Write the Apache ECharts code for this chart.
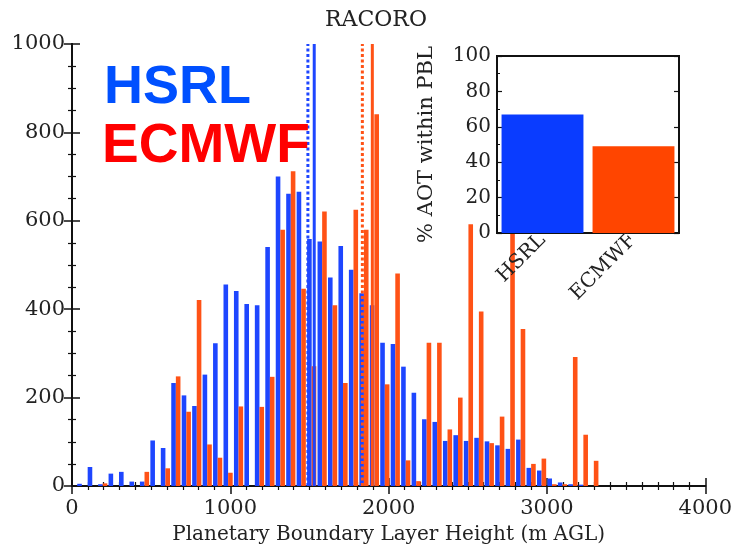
<!DOCTYPE html>
<html><head><meta charset="utf-8">
<script src="https://cdn.jsdelivr.net/npm/echarts@6/dist/echarts.min.js"></script>
<style>html,body{margin:0;padding:0;background:#fff}#c{width:735px;height:550px}</style>
</head><body><div id="c"></div>
<script>
// Histogram bin centres (m AGL)
const binCenters = [62,128,194,260,326,392,458,524,590,656,722,788,854,920,986,1052,1118,1184,1250,1316,1382,1448,1514,1580,1646,1712,1778,1844,1910,1976,2042,2108,2174,2240,2306,2372,2438,2504,2570,2636,2702,2768,2834,2900,2966,3032,3098,3164,3230,3296];
// Counts
const hsrlCounts  = [5,43,4,28,32,10,10,103,86,233,205,181,252,323,456,441,412,409,541,700,661,666,559,553,472,543,489,436,409,324,321,270,211,151,145,102,115,102,109,101,92,84,105,41,35,17,8,4,3,0];
const ecmwfCounts = [0,0,6,0,0,0,32,0,40,248,168,421,94,64,30,180,0,179,247,580,712,446,271,621,409,233,625,580,841,230,481,58,11,324,324,128,200,592,395,97,157,640,355,50,62,4,4,292,116,57];
// Vertical statistic lines: [dotted, solid]
const hsrlLines  = [1490, 1530];
const ecmwfLines = [1834, 1897];
// Inset
const insetCategories = ['HSRL', 'ECMWF'];
const insetValues = [67, 49];

const BLUE = '#1e46ff', ORANGE = '#ff5216';
const IBLUE = '#0a3cff', IORANGE = '#ff4500';
const SERIF = 'DejaVu Serif';
const AX = '#111';
const plain = v => String(v);

const pairs = (xs, ys) => xs.map((x, i) => [x, ys[i]]);
const vline = (x, color, dotted) => ({
  type: 'line', xAxisIndex: 0, yAxisIndex: 0, symbol: 'none', z: 5, silent: true,
  data: [[x, 0], [x, 1000]],
  lineStyle: { color: color, width: 3, type: dotted ? [3, 2.5] : 'solid' }
});

const chart = echarts.init(document.getElementById('c'), null, { renderer: 'canvas' });
chart.setOption({
  animation: false,
  backgroundColor: '#fff',
  title: [
    { text: 'RACORO', left: 320, top: 4, textStyle: { fontFamily: SERIF, fontSize: 22, fontWeight: 'normal', color: '#222' } },
    { text: 'HSRL', left: 99, top: 56, textStyle: { fontFamily: 'Liberation Sans', fontSize: 54, fontWeight: 'bold', color: '#0050ff' } },
    { text: 'ECMWF', left: 97, top: 114, textStyle: { fontFamily: 'Liberation Sans', fontSize: 55, fontWeight: 'bold', color: '#ff0000' } }
  ],
  grid: [
    { left: 72, right: 29, top: 44, bottom: 59, show: false },
    { left: 497, top: 56, width: 182, height: 177, show: true, backgroundColor: '#fff', borderColor: AX, borderWidth: 2, zlevel: 1 }
  ],
  xAxis: [
    { type: 'value', gridIndex: 0, min: 0, max: 4000, interval: 1000,
      axisLine: { lineStyle: { color: AX, width: 2 } },
      axisTick: { inside: true, length: 8, lineStyle: { color: AX, width: 1.5 } },
      minorTick: { show: true, splitNumber: 10, length: 4, lineStyle: { color: AX, width: 1.2 } },
      splitLine: { show: false },
      axisLabel: { fontFamily: SERIF, fontSize: 21, color: '#222', margin: 12, formatter: plain },
      name: 'Planetary Boundary Layer Height (m AGL)', nameLocation: 'middle', nameGap: 39,
      nameTextStyle: { fontFamily: SERIF, fontSize: 20, color: '#222' } },
    { type: 'value', gridIndex: 0, position: 'top', min: 0, max: 4000, interval: 1000,
      axisLine: { lineStyle: { color: AX, width: 2 } },
      axisTick: { inside: true, length: 8, lineStyle: { color: AX, width: 1.5 } },
      minorTick: { show: true, splitNumber: 10, length: 4, lineStyle: { color: AX, width: 1.2 } },
      splitLine: { show: false }, axisLabel: { show: false } },
    { type: 'category', gridIndex: 1, data: insetCategories, zlevel: 1,
      axisLine: { lineStyle: { color: AX, width: 2 } },
      axisTick: { show: false },
      axisLabel: { rotate: 45, fontFamily: SERIF, fontSize: 20, color: '#222', margin: 4 } }
  ],
  yAxis: [
    { type: 'value', gridIndex: 0, min: 0, max: 1000, interval: 200,
      axisLine: { show: true, lineStyle: { color: AX, width: 2 } },
      axisTick: { show: true, inside: true, length: 8, lineStyle: { color: AX, width: 1.5 } },
      minorTick: { show: true, splitNumber: 4, length: 4, lineStyle: { color: AX, width: 1.2 } },
      splitLine: { show: false },
      axisLabel: { fontFamily: SERIF, fontSize: 21, color: '#222', margin: 7, formatter: plain } },
    { type: 'value', gridIndex: 0, position: 'right', min: 0, max: 1000, interval: 200,
      axisLine: { show: true, lineStyle: { color: AX, width: 2 } },
      axisTick: { show: true, inside: true, length: 8, lineStyle: { color: AX, width: 1.5 } },
      minorTick: { show: true, splitNumber: 4, length: 4, lineStyle: { color: AX, width: 1.2 } },
      splitLine: { show: false }, axisLabel: { show: false } },
    { type: 'value', gridIndex: 1, min: 0, max: 100, interval: 20, zlevel: 1,
      axisLine: { show: true, lineStyle: { color: AX, width: 2 } },
      axisTick: { show: true, inside: true, length: 5, lineStyle: { color: AX, width: 1.2 } },
      minorTick: { show: true, splitNumber: 2, length: 3, lineStyle: { color: AX, width: 1 } },
      splitLine: { show: false },
      axisLabel: { fontFamily: SERIF, fontSize: 20, color: '#222', margin: 6 },
      name: '% AOT within PBL', nameLocation: 'middle', nameRotate: 90, nameGap: 60,
      nameTextStyle: { fontFamily: SERIF, fontSize: 21, color: '#222' } },
    { type: 'value', gridIndex: 1, position: 'right', min: 0, max: 100, interval: 20, zlevel: 1,
      axisLine: { show: true, lineStyle: { color: AX, width: 2 } },
      axisTick: { show: true, inside: true, length: 5, lineStyle: { color: AX, width: 1.2 } },
      splitLine: { show: false }, axisLabel: { show: false } }
  ],
  series: [
    { type: 'bar', name: 'HSRL', xAxisIndex: 0, yAxisIndex: 0, data: pairs(binCenters, hsrlCounts),
      barWidth: 4.6, barGap: '0%', itemStyle: { color: BLUE }, z: 2 },
    { type: 'bar', name: 'ECMWF', xAxisIndex: 0, yAxisIndex: 0, data: pairs(binCenters, ecmwfCounts),
      barWidth: 4.6, barGap: '0%', itemStyle: { color: ORANGE }, z: 2 },
    vline(hsrlLines[0], BLUE, true),
    vline(hsrlLines[1], BLUE, false),
    vline(ecmwfLines[0], ORANGE, true),
    vline(ecmwfLines[1], ORANGE, false),
    { type: 'bar', xAxisIndex: 2, yAxisIndex: 2, zlevel: 1, barCategoryGap: '10%',
      data: insetValues.map((v, i) => ({ value: v, itemStyle: { color: i === 0 ? IBLUE : IORANGE } })) }
  ]
});
</script></body></html>
